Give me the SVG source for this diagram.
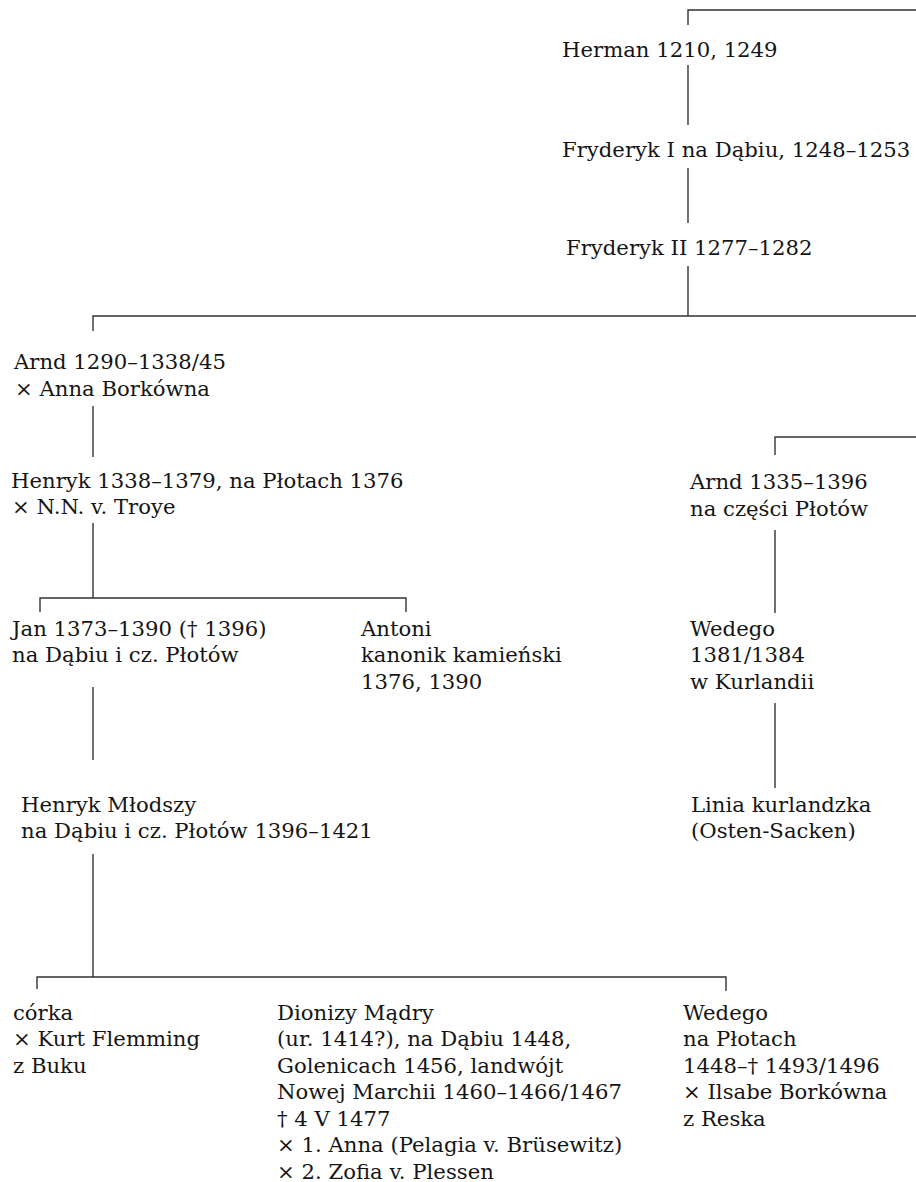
<svg xmlns="http://www.w3.org/2000/svg" width="916" height="1182" viewBox="0 0 916 1182">
<style>
text { font-family: "DejaVu Serif", "Liberation Serif", serif; font-size: 21.2px; fill: #151515; }
.c line, .c polyline { stroke: #333; stroke-width: 1.4; fill: none; }
</style>
<rect width="916" height="1182" fill="#fff"/>
<g class="c" id="connectors">
<polyline points="688,25 688,10 916,10"/>
<line x1="688" y1="65" x2="688" y2="125"/>
<line x1="688" y1="168" x2="688" y2="223"/>
<line x1="688" y1="266" x2="688" y2="316"/>
<polyline points="93,331 93,316 916,316"/>
<line x1="93" y1="406" x2="93" y2="457"/>
<line x1="93" y1="523" x2="93" y2="598"/>
<polyline points="40,612 40,598 406,598 406,612"/>
<polyline points="775,455 775,437 916,437"/>
<line x1="775" y1="530" x2="775" y2="613"/>
<line x1="775" y1="703" x2="775" y2="788"/>
<line x1="93" y1="687" x2="93" y2="760"/>
<line x1="93" y1="854" x2="93" y2="977"/>
<polyline points="37,989 37,977 726,977 726,991"/>
</g>
<g id="herman"><text x="562" y="57">Herman 1210, 1249</text></g>
<g id="fryderyk1"><text x="562" y="157">Fryderyk I na Dąbiu, 1248–1253</text></g>
<g id="fryderyk2"><text x="566" y="255">Fryderyk II 1277–1282</text></g>
<g id="arnd1"><text x="14" y="369">Arnd 1290–1338/45</text><text x="15" y="396">× Anna Borkówna</text></g>
<g id="henryk"><text x="11" y="488">Henryk 1338–1379, na Płotach 1376</text><text x="12" y="514">× N.N. v. Troye</text></g>
<g id="arnd2"><text x="690" y="489">Arnd 1335–1396</text><text x="690" y="516">na części Płotów</text></g>
<g id="jan"><text x="12" y="636">Jan 1373–1390 († 1396)</text><text x="12" y="662">na Dąbiu i cz. Płotów</text></g>
<g id="antoni"><text x="361" y="636">Antoni</text><text x="361" y="662">kanonik kamieński</text><text x="361" y="689">1376, 1390</text></g>
<g id="wedego1"><text x="690" y="636">Wedego</text><text x="690" y="662">1381/1384</text><text x="690" y="689">w Kurlandii</text></g>
<g id="henryk-mlodszy"><text x="21" y="812">Henryk Młodszy</text><text x="21" y="838">na Dąbiu i cz. Płotów 1396–1421</text></g>
<g id="linia"><text x="691" y="812">Linia kurlandzka</text><text x="691" y="838">(Osten-Sacken)</text></g>
<g id="corka"><text x="13" y="1020">córka</text><text x="13" y="1046">× Kurt Flemming</text><text x="13" y="1073">z Buku</text></g>
<g id="dionizy"><text x="277" y="1020">Dionizy Mądry</text><text x="277" y="1046">(ur. 1414?), na Dąbiu 1448,</text><text x="277" y="1073">Golenicach 1456, landwójt</text><text x="277" y="1099">Nowej Marchii 1460–1466/1467</text><text x="277" y="1126">† 4 V 1477</text><text x="277" y="1152">× 1. Anna (Pelagia v. Brüsewitz)</text><text x="277" y="1179">× 2. Zofia v. Plessen</text></g>
<g id="wedego2"><text x="683" y="1020">Wedego</text><text x="683" y="1046">na Płotach</text><text x="683" y="1073">1448–† 1493/1496</text><text x="683" y="1099">× Ilsabe Borkówna</text><text x="683" y="1126">z Reska</text></g>
</svg>
